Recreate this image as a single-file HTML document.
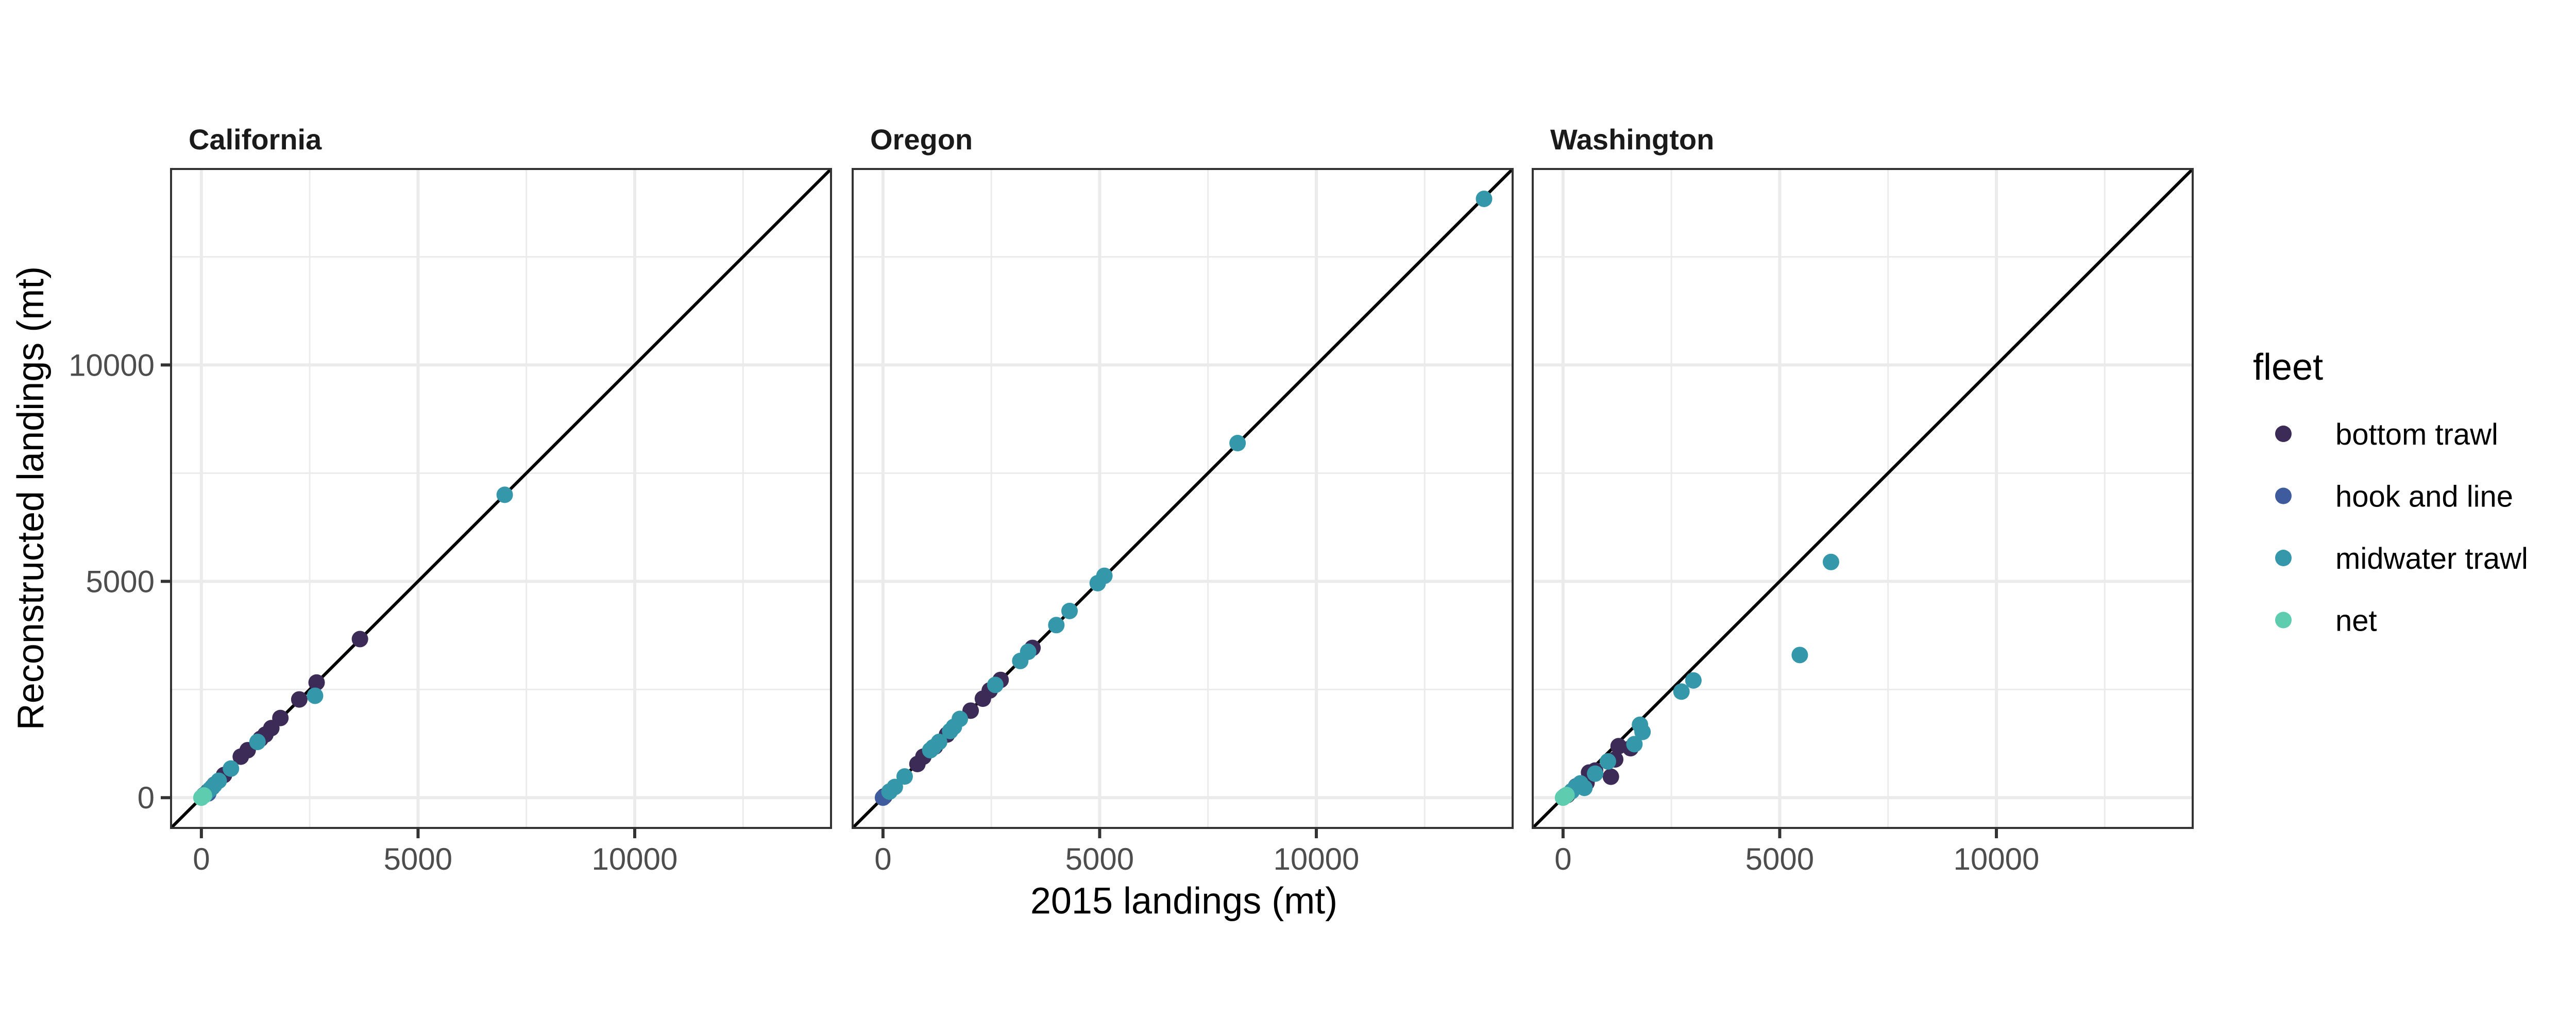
<!DOCTYPE html>
<html><head><meta charset="utf-8"><style>
html,body{margin:0;padding:0;background:#fff;}
svg text{font-family:"Liberation Sans",Arial,sans-serif;}
</style></head><body>
<svg id="chart" width="5000" height="2000" viewBox="0 0 5000 2000" xmlns="http://www.w3.org/2000/svg">
<rect width="5000" height="2000" fill="#fff"/>
<g id="panels"></g>
<text x="2298" y="1773" font-size="72" text-anchor="middle" fill="#000">2015 landings (mt)</text>
<text transform="translate(84,967) rotate(-90)" font-size="72" text-anchor="middle" fill="#000">Reconstructed landings (mt)</text>
<g>
<text x="4373" y="737" font-size="72" fill="#000">fleet</text>
<g id="legend-entries"></g>
</g>
</svg>
<script>
const facets = ["California","Oregon","Washington"];
const fleets = ["bottom trawl","hook and line","midwater trawl","net"];
const fleetColors = ["#3b2b56","#3e5c9d","#3497aa","#5ecdaf"];
const ticks = [0,5000,10000];
const tickLabels = ["0","5000","10000"];
const minorTicks = [2500,7500,12500];
// California [x, y] per fleet
const caBT = [[3659,3665],[2659,2661],[2259,2270],[1823,1841],[1614,1607],[1477,1458],[1364,1360],[1068,1097],[909,948],[523,523],[300,300],[150,140]];
const caHL = [[159,98],[60,60],[250,240]];
const caMW = [[7000,7000],[2623,2355],[1295,1288],[682,672],[295,289],[400,390],[200,190],[100,90]];
const caNET = [[0,0],[60,50]];
// Oregon
const orBT = [[3450,3461],[2714,2721],[2464,2479],[2305,2287],[2023,2011],[1477,1458],[932,948],[795,778],[1200,1180],[30,30]];
const orHL = [[0,0]];
const orMW = [[13870,13840],[8183,8195],[5109,5128],[4955,4958],[4305,4315],[4000,3988],[3350,3372],[3168,3159],[2591,2606],[1773,1820],[1636,1637],[1550,1540],[1295,1288],[1159,1161],[1091,1097],[500,489],[273,247],[150,140]];
const orNET = [];
// Washington
const waBT = [[1558,1143],[1282,1190],[1203,884],[1104,484],[740,626],[542,343],[99,61],[300,260],[600,580]];
const waHL = [[50,40]];
const waMW = [[6183,5447],[5463,3297],[3008,2709],[2732,2451],[1775,1684],[1834,1519],[1647,1237],[1035,837],[740,555],[493,226],[296,249],[200,150],[400,330]];
const waNET = [[0,0],[80,60]];
const panelData = [[caBT,caHL,caMW,caNET],[orBT,orHL,orMW,orNET],[waBT,waHL,waMW,waNET]];

const NS="http://www.w3.org/2000/svg";
const PW=1281, PH=1279, PTOP=328, PLEFT=[332,1655,2975];
const DMIN=-700, DMAX=14530;
function sx(v,i){return PLEFT[i]+(v-DMIN)/(DMAX-DMIN)*PW;}
function sy(v){return PTOP+PH-(v-DMIN)/(DMAX-DMIN)*PH;}
function mk(tag,attrs,parent){const e=document.createElementNS(NS,tag);for(const k in attrs)e.setAttribute(k,attrs[k]);parent.appendChild(e);return e;}
const root=document.getElementById('panels');
facets.forEach((f,i)=>{
  const g=mk('g',{},root);
  
  
  const L=PLEFT[i];
  const cp=mk('clipPath',{id:'clip'+i},g);
  mk('rect',{x:L,y:PTOP,width:PW,height:PH},cp);
  const bg=mk('rect',{x:L,y:PTOP,width:PW,height:PH,fill:'#fff'},g);
  
  
  minorTicks.forEach(t=>{
    const a=mk('line',{x1:sx(t,i),x2:sx(t,i),y1:PTOP,y2:PTOP+PH,stroke:'#ebebeb','stroke-width':3},g);
    
    
    const b=mk('line',{x1:L,x2:L+PW,y1:sy(t),y2:sy(t),stroke:'#ebebeb','stroke-width':3},g);
    
    
  });
  ticks.forEach((t,k)=>{
    const a=mk('line',{x1:sx(t,i),x2:sx(t,i),y1:PTOP,y2:PTOP+PH,stroke:'#ebebeb','stroke-width':6},g);
    
    
    const b=mk('line',{x1:L,x2:L+PW,y1:sy(t),y2:sy(t),stroke:'#ebebeb','stroke-width':6},g);
    
    
    const tk=mk('line',{x1:sx(t,i),x2:sx(t,i),y1:PTOP+PH,y2:PTOP+PH+20,stroke:'#333','stroke-width':6},g);
    
    
    const tl=mk('text',{x:sx(t,i),y:1688,'font-size':60,'text-anchor':'middle',fill:'#4d4d4d'},g);
    tl.textContent=tickLabels[k];
    
    
    if(i===0){
      const yt=mk('line',{x1:L-20,x2:L,y1:sy(t),y2:sy(t),stroke:'#333','stroke-width':6},g);
      
      
      const yl=mk('text',{x:L-32,y:sy(t)+21,'font-size':60,'text-anchor':'end',fill:'#4d4d4d'},g);
      yl.textContent=tickLabels[k];
      
      
    }
  });
  const dl=mk('line',{x1:sx(DMIN,i),y1:sy(DMIN),x2:sx(DMAX,i),y2:sy(DMAX),stroke:'#000','stroke-width':6,'clip-path':'url(#clip'+i+')'},g);
  
  
  panelData[i].forEach((pts,fi)=>{
    pts.forEach(p=>{
      const c=mk('circle',{cx:sx(p[0],i),cy:sy(p[1]),r:16,fill:fleetColors[fi]},g);
      
      
    });
  });
  const br=mk('rect',{x:L,y:PTOP,width:PW,height:PH,fill:'none',stroke:'#333','stroke-width':4},g);
  
  
  const st=mk('text',{x:L+34,y:290,'font-size':56,'font-weight':'bold',fill:'#1a1a1a'},g);
  st.textContent=f;
  
  
});
const leg=document.getElementById('legend-entries');
fleets.forEach((f,k)=>{
  const y=842+k*120.5;
  const c=mk('circle',{cx:4432,cy:y,r:16,fill:fleetColors[k]},leg);
  
  
  const t=mk('text',{x:4533,y:y+21,'font-size':58,fill:'#000'},leg);
  t.textContent=f;
  
  
});
</script>
</body></html>
